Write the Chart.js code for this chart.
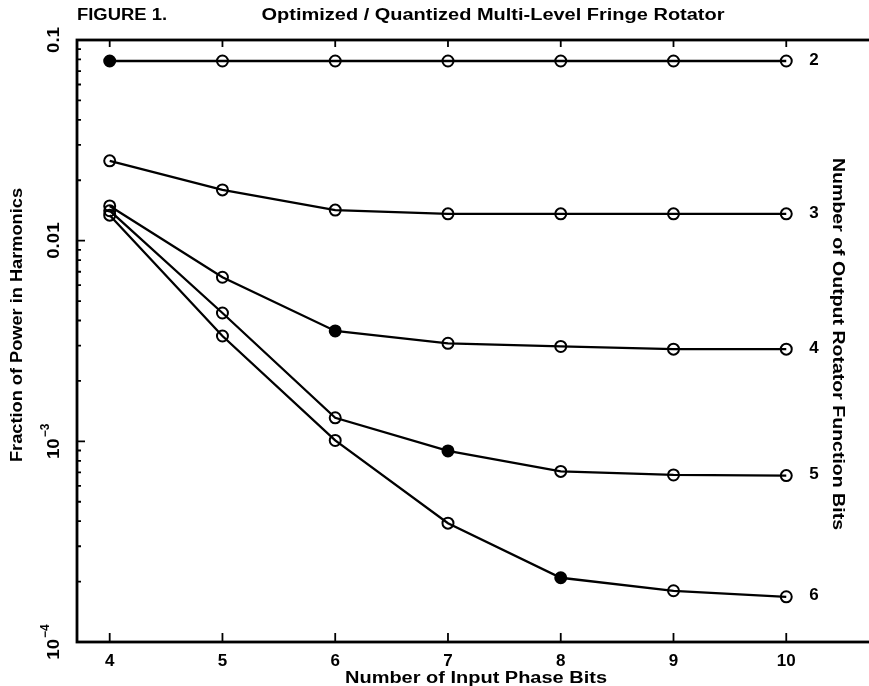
<!DOCTYPE html>
<html>
<head>
<meta charset="utf-8">
<script src="https://cdn.jsdelivr.net/npm/chart.js@4.4.1/dist/chart.umd.min.js"></script>
<style>
  html, body { margin: 0; padding: 0; background: #fff; overflow: hidden; }
  #wrap { width: 920px; height: 686px; }
</style>
</head>
<body>
<div id="wrap"><canvas id="graphic" width="920" height="686"></canvas></div>
<script>
// data
const inputBits = [4, 5, 6, 7, 8, 9, 10];
const outputBits = [2, 3, 4, 5, 6];
const bits2 = [0.0786, 0.0786, 0.0786, 0.0786, 0.0786, 0.0786, 0.0786];
const bits3 = [0.0250, 0.0179, 0.0142, 0.0136, 0.0136, 0.0136, 0.0136];
const bits4 = [0.0149, 0.00657, 0.00355, 0.00308, 0.00297, 0.00288, 0.00288];
const bits5 = [0.0141, 0.00436, 0.00131, 0.000896, 0.000708, 0.000680, 0.000675];
const bits6 = [0.0134, 0.00335, 0.00101, 0.000391, 0.000209, 0.000180, 0.000168];
// input bits where the marker is filled (null = none)
const filledAt = [4, null, 6, 7, 8];
const yMajor = [0.1, 0.01, 0.001, 0.0001];
const yLabels = [['0.1', ''], ['0.01', ''], ['10', '\u22123'], ['10', '\u22124']];

const series = [bits2, bits3, bits4, bits5, bits6];

const datasets = series.map((vals, i) => ({
    label: String(outputBits[i]),
    data: inputBits.map((x, j) => ({ x: x, y: vals[j] })),
    borderColor: '#000',
    borderWidth: 2.3,
    pointRadius: 5.5,
    pointBorderWidth: 2,
    pointBorderColor: '#000',
    pointBackgroundColor: inputBits.map(x => x === filledAt[i] ? '#000' : 'rgba(0,0,0,0)'),
    tension: 0
}));

const fam = '"Liberation Sans", Arial, sans-serif';
const fnt = 'bold 17px ' + fam;

function fitText(ctx, text, x, y, w, rot) {
    ctx.save();
    ctx.translate(x, y);
    ctx.rotate(rot);
    const m = ctx.measureText(text).width;
    ctx.scale(w / m, 1);
    ctx.fillText(text, 0, 0);
    ctx.restore();
}

const framePlugin = {
    id: 'frame',
    beforeDatasetsDraw(chart) {
        const ctx = chart.ctx;
        const a = chart.chartArea;
        const xs = chart.scales.x;
        const ys = chart.scales.y;
        ctx.save();
        ctx.strokeStyle = '#000';
        ctx.lineWidth = 2.8;
        ctx.strokeRect(a.left, a.top, a.right - a.left, a.bottom - a.top);

        ctx.lineWidth = 1.8;
        ctx.beginPath();
        inputBits.forEach(v => {
            const px = xs.getPixelForValue(v);
            ctx.moveTo(px, a.bottom);
            ctx.lineTo(px, a.bottom - 9);
            ctx.moveTo(px, a.top);
            ctx.lineTo(px, a.top + 7);
        });
        // log ticks on left axis
        for (let e = -4; e < -1; e++) {
            for (let k = 1; k <= 9; k++) {
                const v = k * Math.pow(10, e);
                const py = ys.getPixelForValue(v);
                const len = k === 1 ? 8 : 4;
                ctx.moveTo(a.left, py);
                ctx.lineTo(a.left + len, py);
            }
        }
        ctx.stroke();
        ctx.restore();
    },
    afterDraw(chart) {
        const ctx = chart.ctx;
        const xs = chart.scales.x;
        const ys = chart.scales.y;
        ctx.save();
        ctx.fillStyle = '#000';
        ctx.textAlign = 'center';
        ctx.textBaseline = 'middle';

        ctx.font = 'bold 16px ' + fam;
        fitText(ctx, 'FIGURE 1.', 122, 16, 90, 0);
        fitText(ctx, 'Optimized / Quantized Multi-Level Fringe Rotator', 493, 16, 463, 0);
        fitText(ctx, 'Number of Input Phase Bits', 476, 679, 262, 0);
        fitText(ctx, 'Fraction of Power in Harmonics', 18, 325, 274, -Math.PI / 2);
        fitText(ctx, 'Number of Output Rotator Function Bits', 837, 344, 372, Math.PI / 2);

        // x tick labels
        ctx.font = fnt;
        inputBits.forEach(v => {
            ctx.fillText(String(v), xs.getPixelForValue(v), 661);
        });

        // y tick labels, rotated
        yMajor.forEach((v, i) => {
            const py = ys.getPixelForValue(v);
            const [base, sup] = yLabels[i];
            ctx.save();
            ctx.translate(54, py);
            ctx.rotate(-Math.PI / 2);
            ctx.font = fnt;
            const bw = ctx.measureText(base).width * 1.1;
            ctx.font = 'bold 12px ' + fam;
            const sw = sup ? ctx.measureText(sup).width + 1 : 0;
            const start = -(bw + sw) / 2;
            ctx.textAlign = 'left';
            ctx.font = fnt;
            ctx.save();
            ctx.translate(start, 0);
            ctx.scale(1.1, 1);
            ctx.fillText(base, 0, 0);
            ctx.restore();
            if (sup) {
                ctx.font = 'bold 12px ' + fam;
                ctx.fillText(sup, start + bw + 1, -8);
            }
            ctx.restore();
        });

        // series labels at right end
        ctx.font = fnt;
        series.forEach((vals, i) => {
            const py = ys.getPixelForValue(vals[vals.length - 1]);
            ctx.fillText(String(outputBits[i]), 814, py - 1);
        });
        ctx.restore();
    }
};

const ctx = document.getElementById('graphic');

let grafico = new Chart(ctx, {
    type: 'line',
    data: { datasets: datasets },
    options: {
        responsive: false,
        animation: false,
        layout: { padding: { left: 77, right: 30, top: 40, bottom: 44 } },
        plugins: {
            legend: { display: false },
            tooltip: { enabled: false }
        },
        scales: {
            x: {
                type: 'linear',
                min: 3.71,
                max: 10.92,
                display: false
            },
            y: {
                type: 'logarithmic',
                min: 0.0001,
                max: 0.1,
                display: false
            }
        }
    },
    plugins: [framePlugin]
});
</script>
</body>
</html>
